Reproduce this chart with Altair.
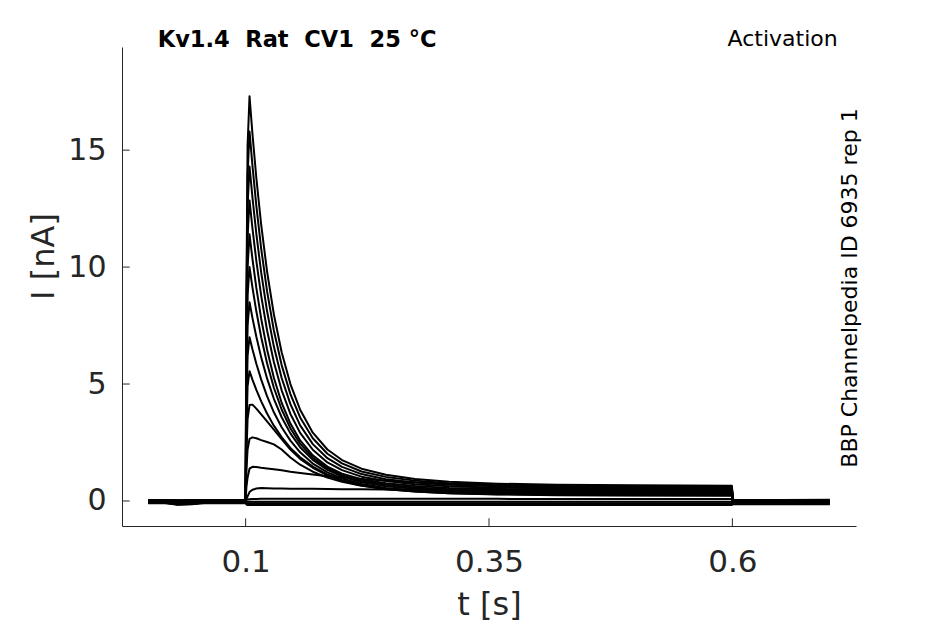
import altair as alt
import pandas as pd

# ---- time grids (s) ----
T_PRE = [0.0, 0.015, 0.03, 0.045, 0.06, 0.08, 0.1]
T_PULSE = [0.1008, 0.102, 0.104, 0.107, 0.111, 0.116, 0.122, 0.129, 0.137, 0.146, 0.156,
           0.169, 0.184, 0.199, 0.219, 0.244, 0.274, 0.309, 0.359, 0.419, 0.499, 0.5995]
T_POST = [0.6005, 0.65, 0.7]

# ---- current during the pulse (nA), one list per sweep ----
trace_01 = [8.7, 15.2, 17.3, 15.70, 13.81, 11.80, 9.82, 7.98, 6.36, 5.00, 3.90, 2.92, 2.20, 1.75, 1.38, 1.12, 0.94, 0.82, 0.74, 0.69, 0.67, 0.65]
trace_02 = [7.9, 13.9, 15.8, 14.34, 12.62, 10.78, 8.97, 7.29, 5.81, 4.57, 3.57, 2.68, 2.02, 1.61, 1.26, 1.03, 0.87, 0.76, 0.69, 0.64, 0.62, 0.60]
trace_03 = [7.2, 12.6, 14.3, 12.98, 11.42, 9.76, 8.12, 6.60, 5.26, 4.14, 3.23, 2.43, 1.83, 1.46, 1.15, 0.93, 0.79, 0.69, 0.63, 0.59, 0.56, 0.55]
trace_04 = [6.4, 11.3, 12.85, 11.66, 10.26, 8.77, 7.30, 5.94, 4.73, 3.72, 2.91, 2.19, 1.65, 1.32, 1.04, 0.85, 0.72, 0.63, 0.57, 0.53, 0.51, 0.50]
trace_05 = [5.7, 10.0, 11.4, 10.35, 9.11, 7.79, 6.48, 5.27, 4.20, 3.31, 2.59, 1.95, 1.47, 1.17, 0.93, 0.76, 0.64, 0.56, 0.51, 0.48, 0.46, 0.45]
trace_06 = [5.0, 8.8, 10.0, 9.13, 8.11, 7.00, 5.89, 4.84, 3.91, 3.11, 2.45, 1.85, 1.40, 1.10, 0.86, 0.69, 0.58, 0.50, 0.45, 0.43, 0.41, 0.40]
trace_07 = [4.3, 7.5, 8.5, 7.83, 7.02, 6.14, 5.24, 4.37, 3.58, 2.89, 2.30, 1.76, 1.33, 1.04, 0.80, 0.63, 0.52, 0.45, 0.40, 0.37, 0.36, 0.35]
trace_08 = [3.5, 6.2, 7.0, 6.49, 5.87, 5.19, 4.48, 3.79, 3.15, 2.58, 2.08, 1.60, 1.22, 0.96, 0.73, 0.56, 0.45, 0.39, 0.34, 0.32, 0.31, 0.30]
trace_09 = [2.8, 4.9, 5.55, 5.19, 4.75, 4.26, 3.74, 3.22, 2.73, 2.27, 1.87, 1.47, 1.13, 0.89, 0.68, 0.51, 0.40, 0.33, 0.29, 0.26, 0.25, 0.25]
trace_10 = [2.0, 3.5, 4.1, 4.12, 3.95, 3.70, 3.40, 3.05, 2.65, 2.20, 1.80, 1.42, 1.10, 0.86, 0.66, 0.50, 0.40, 0.33, 0.28, 0.25, 0.23, 0.22]
trace_11 = [1.3, 2.2, 2.65, 2.72, 2.68, 2.60, 2.52, 2.42, 2.20, 1.86, 1.55, 1.25, 1.00, 0.82, 0.65, 0.52, 0.43, 0.37, 0.33, 0.31, 0.30, 0.30]
trace_12 = [0.6, 1.0, 1.38, 1.46, 1.45, 1.42, 1.39, 1.36, 1.31, 1.25, 1.20, 1.13, 1.06, 1.00, 0.94, 0.87, 0.80, 0.73, 0.66, 0.60, 0.56, 0.55]
trace_13 = [0.08, 0.2, 0.38, 0.48, 0.53, 0.55, 0.54, 0.53, 0.53, 0.52, 0.52, 0.52, 0.51, 0.50, 0.50, 0.49, 0.49, 0.48, 0.48, 0.47, 0.47, 0.47]
trace_14 = [0.05, 0.06, 0.07, 0.08, 0.08, 0.09, 0.09, 0.09, 0.09, 0.09, 0.09, 0.09, 0.09, 0.09, 0.09, 0.09, 0.09, 0.09, 0.09, 0.08, 0.08, 0.08]
trace_15 = [-0.03, -0.03, -0.03, -0.03, -0.03, -0.03, -0.03, -0.03, -0.03, -0.03, -0.03, -0.03, -0.03, -0.03, -0.03, -0.03, -0.03, -0.03, -0.03, -0.03, -0.03, -0.03]
trace_16 = [-0.08, -0.1, -0.1, -0.1, -0.1, -0.1, -0.1, -0.1, -0.1, -0.1, -0.1, -0.1, -0.1, -0.1, -0.1, -0.1, -0.1, -0.1, -0.1, -0.1, -0.1, -0.1]
trace_17 = [-0.15, -0.17, -0.17, -0.17, -0.17, -0.17, -0.17, -0.17, -0.17, -0.17, -0.17, -0.17, -0.17, -0.17, -0.17, -0.17, -0.17, -0.17, -0.17, -0.17, -0.17, -0.17]

PULSE = [trace_01, trace_02, trace_03, trace_04, trace_05, trace_06, trace_07, trace_08, trace_09,
         trace_10, trace_11, trace_12, trace_13, trace_14, trace_15, trace_16, trace_17]

# ---- holding current before the step (nA), per sweep ----
pre_pulse = [
    [0.03, 0.03, 0.02, 0.03, 0.03, 0.02, 0.03],
    [0.0, 0.0, -0.01, 0.0, 0.0, 0.0, 0.0],
    [-0.03, -0.04, -0.12, -0.10, -0.03, -0.03, -0.03],
    [0.02, 0.02, 0.01, 0.02, 0.02, 0.02, 0.02],
    [-0.05, -0.05, -0.14, -0.12, -0.05, -0.05, -0.05],
    [0.01, 0.01, 0.0, 0.01, 0.01, 0.01, 0.01],
    [-0.02, -0.02, -0.03, -0.02, -0.02, -0.02, -0.02],
    [-0.06, -0.06, -0.15, -0.13, -0.06, -0.06, -0.06],
    [0.04, 0.04, 0.03, 0.04, 0.04, 0.04, 0.04],
    [-0.01, -0.01, -0.02, -0.01, -0.01, -0.01, -0.01],
    [-0.04, -0.04, -0.05, -0.04, -0.04, -0.04, -0.04],
    [0.02, 0.02, 0.02, 0.02, 0.02, 0.02, 0.02],
    [-0.08, -0.08, -0.16, -0.14, -0.08, -0.08, -0.08],
    [0.0, 0.0, 0.0, 0.0, 0.0, 0.0, 0.0],
    [-0.03, -0.03, -0.03, -0.03, -0.03, -0.03, -0.03],
    [-0.06, -0.06, -0.06, -0.06, -0.06, -0.06, -0.06],
    [-0.10, -0.10, -0.10, -0.10, -0.10, -0.10, -0.10],
]

# ---- current after the step (nA), per sweep ----
post_pulse = [
    [0.05, 0.04, 0.05], [0.03, 0.03, 0.03], [0.0, 0.0, 0.0], [-0.02, -0.02, -0.02],
    [-0.04, -0.04, -0.04], [-0.06, -0.06, -0.06], [-0.08, -0.08, -0.08], [-0.1, -0.1, -0.1],
    [-0.12, -0.12, -0.12], [-0.05, -0.05, -0.05], [-0.03, -0.03, -0.03], [0.01, 0.01, 0.01],
    [-0.07, -0.07, -0.07], [0.02, 0.02, 0.02], [-0.09, -0.09, -0.09], [-0.11, -0.11, -0.11],
    [-0.14, -0.14, -0.14],
]

X_TICKS = [0.1, 0.35, 0.6]
Y_TICKS = [0, 5, 10, 15]
TITLE = "Kv1.4\u00a0\u00a0Rat\u00a0\u00a0CV1\u00a0\u00a025\u00a0°C"
PROTOCOL = "Activation"
SOURCE = "BBP Channelpedia ID 6935 rep 1"

# ---- long table ----
rows = []
for k in range(len(PULSE)):
    ts = T_PRE + T_PULSE + T_POST
    vs = pre_pulse[k] + PULSE[k] + post_pulse[k]
    for i, (t, v) in enumerate(zip(ts, vs)):
        rows.append({"sweep": k, "order": i, "t": t, "I": v})
df = pd.DataFrame(rows)

W, H = 734, 479
FONT = "DejaVu Sans"
INK = "#262626"

xscale = alt.Scale(domain=[-0.027, 0.727], nice=False, zero=False)
yscale = alt.Scale(domain=[-1.07, 19.41], nice=False, zero=False)

lines = alt.Chart(df).mark_line(color="black", strokeWidth=2.0, strokeJoin="round").encode(
    x=alt.X("t:Q", scale=xscale,
            axis=alt.Axis(values=X_TICKS, format="~g", title="t [s]", ticks=False, grid=False,
                          labelPadding=21, labelFontSize=31, labelFont=FONT, labelColor=INK,
                          titleFontSize=32, titleFont=FONT, titleColor=INK, titleFontWeight="normal",
                          titleY=88, titleBaseline="alphabetic", domainColor=INK, domainWidth=1)),
    y=alt.Y("I:Q", scale=yscale,
            axis=alt.Axis(values=Y_TICKS, title="I [nA]", ticks=False, grid=False,
                          labelPadding=16, labelFontSize=30, labelFont=FONT, labelColor=INK,
                          titleFontSize=32, titleFont=FONT, titleColor=INK, titleFontWeight="normal",
                          titleX=-69, titleY=209, titleBaseline="alphabetic", titleAngle=270,
                          domainColor=INK, domainWidth=1)),
    detail="sweep:N",
    order="order:Q",
)

xt = alt.Chart(pd.DataFrame({"t": X_TICKS})).mark_rule(color=INK, strokeWidth=1).encode(
    x=alt.X("t:Q", scale=xscale), y=alt.value(H), y2=alt.value(H - 7.7))
yt = alt.Chart(pd.DataFrame({"I": Y_TICKS})).mark_rule(color=INK, strokeWidth=1).encode(
    y=alt.Y("I:Q", scale=yscale), x=alt.value(0), x2=alt.value(7.7))

title_txt = alt.Chart(pd.DataFrame({"s": [TITLE]})).mark_text(
    font=FONT, fontSize=22.5, fontWeight="bold", color="black", align="left", baseline="alphabetic"
).encode(text="s:N", x=alt.value(35.7), y=alt.value(-0.5))

prot_txt = alt.Chart(pd.DataFrame({"s": [PROTOCOL]})).mark_text(
    font=FONT, fontSize=22, color="black", align="right", baseline="alphabetic"
).encode(text="s:N", x=alt.value(715.7), y=alt.value(-1.5))

src_txt = alt.Chart(pd.DataFrame({"s": [SOURCE]})).mark_text(
    font=FONT, fontSize=22, color="black", align="center", baseline="middle", angle=270
).encode(text="s:N", x=alt.value(727.5), y=alt.value(241))

chart = alt.layer(lines, xt, yt, title_txt, prot_txt, src_txt).properties(
    width=W, height=H,
    autosize=alt.AutoSizeParams(type="none"),
    padding={"left": 114, "top": 39, "right": 80, "bottom": 97},
    background="white",
).configure_view(stroke=None)

chart.save("out.html", embed_options={"renderer": "svg", "actions": False})
